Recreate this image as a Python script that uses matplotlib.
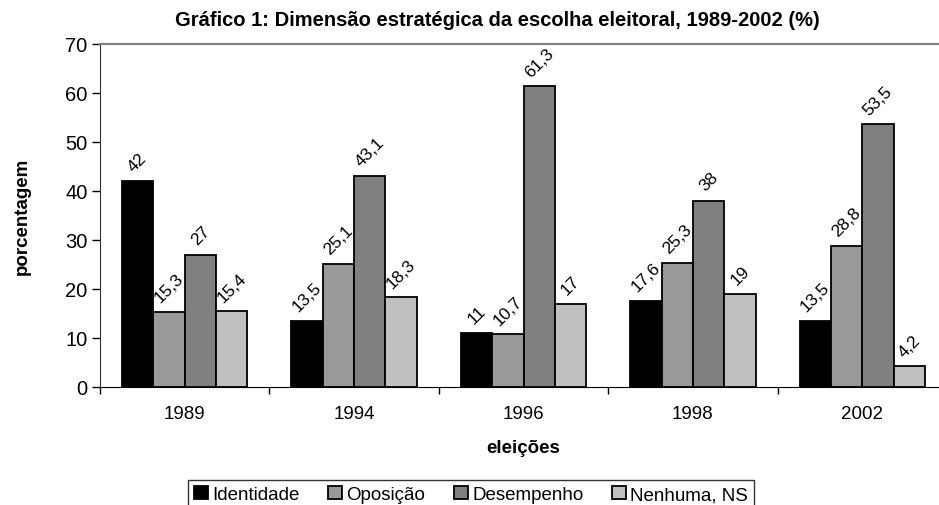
import matplotlib
matplotlib.use("Agg")
import matplotlib.pyplot as plt
import numpy as np

plt.rcParams['font.family'] = ['Liberation Sans', 'DejaVu Sans']

# chart data
anos = ['1989', '1994', '1996', '1998', '2002']
series = ['Identidade', 'Oposição', 'Desempenho', 'Nenhuma, NS']
identidade = [42, 13.5, 11, 17.6, 13.5]
oposicao = [15.3, 25.1, 10.7, 25.3, 28.8]
desempenho = [27, 43.1, 61.3, 38, 53.5]
nenhuma = [15.4, 18.3, 17, 19, 4.2]
valores = [identidade, oposicao, desempenho, nenhuma]
cores = ['#000000', '#999999', '#808080', '#c0c0c0']

fig = plt.figure(figsize=(9.39, 5.06), dpi=100)
ax = fig.add_axes([100 / 939, 1 - 388 / 506, 847 / 939, (388 - 44.5) / 506])

x = np.arange(len(anos))
w = 0.185
for i, (nome, vals, cor) in enumerate(zip(series, valores, cores)):
    pos = x + (i - 1.5) * w
    bars = ax.bar(pos, vals, w, color=cor, edgecolor='black', linewidth=1.3, label=nome)
    for b, v in zip(bars, vals):
        txt = ('%g' % v).replace('.', ',')
        ax.annotate(txt, (b.get_x() + b.get_width() / 2, v), xytext=(0, 5),
                    textcoords='offset points', ha='center', va='bottom',
                    rotation=45, fontsize=12.5)

ax.set_xlim(-0.5, len(anos) - 0.5)
ax.set_ylim(0, 70)
ax.set_yticks(range(0, 71, 10))
ax.tick_params(axis='y', labelsize=14.5, length=6, width=1, direction='out', pad=3)
ax.set_xticks(x)
ax.set_xticklabels(anos)
ax.tick_params(axis='x', which='major', length=0, labelsize=13.5, pad=13)
ax.set_xticks(np.arange(-0.5, len(anos)), minor=True)
ax.tick_params(axis='x', which='minor', length=5, width=1, direction='out')

ax.spines['right'].set_visible(False)
ax.spines['top'].set_color('#808080')
ax.spines['top'].set_linewidth(1.5)
ax.spines['left'].set_color('#333333')
ax.spines['bottom'].set_color('black')

ax.set_xlabel('eleições', fontsize=13.5, fontweight='bold', labelpad=12)
ax.set_ylabel('porcentagem', fontsize=13.5, fontweight='bold', labelpad=25)
fig.text(497 / 939, 1 - 21 / 506, 'Gráfico 1: Dimensão estratégica da escolha eleitoral, 1989-2002 (%)',
         ha='center', va='center', fontsize=14.5, fontweight='bold')

leg = fig.legend(loc='upper center', bbox_to_anchor=(471 / 939, 1 - 481 / 506), ncol=4,
                 fontsize=13.5, frameon=True, fancybox=False, edgecolor='black',
                 handlelength=0.75, handleheight=0.75, handletextpad=0.25,
                 columnspacing=1.5, borderpad=0.3, borderaxespad=0)
leg.get_frame().set_linewidth(1)

fig.savefig('out.png', dpi=100)
